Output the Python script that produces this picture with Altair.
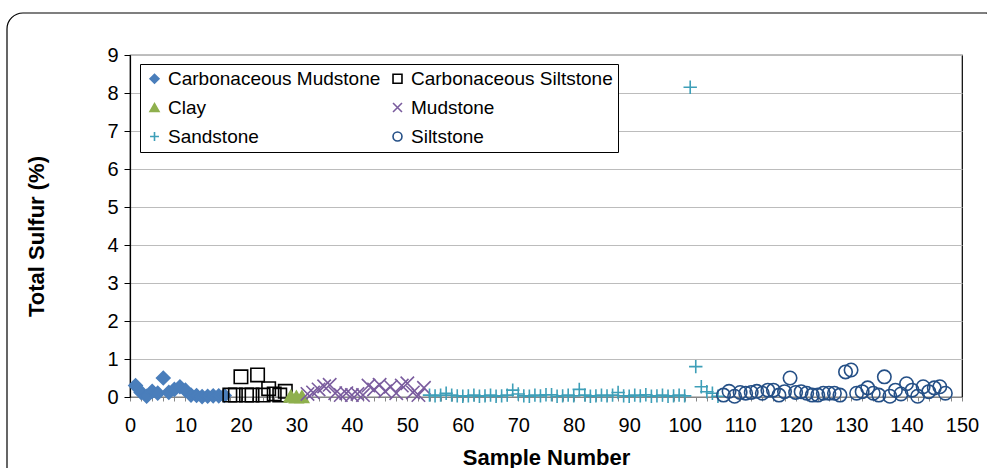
import altair as alt
import pandas as pd

# Total sulfur (%) by sample number, grouped by lithology
carb_mudstone_samples = list(range(1, 18))
carb_mudstone_values = [0.30, 0.12, 0.02, 0.15, 0.10, 0.50, 0.12, 0.20, 0.27, 0.18,
                        0.05, 0.04, 0.01, 0.02, 0.03, 0.03, 0.04]

carb_siltstone_samples = list(range(18, 29))
carb_siltstone_values = [0.05, 0.05, 0.53, 0.05, 0.05, 0.58, 0.05, 0.22, 0.08, 0.05, 0.15]

clay_samples = [29, 30, 31]
clay_values = [0.02, 0.00, 0.01]

mudstone_samples = list(range(32, 54))
mudstone_values = [0.08, 0.12, 0.20, 0.28, 0.32, 0.10, 0.05, 0.10, 0.05, 0.08, 0.05,
                   0.30, 0.20, 0.32, 0.15, 0.27, 0.10, 0.30, 0.36, 0.12, 0.05, 0.24]

sandstone_samples = list(range(54, 107))
sandstone_values = [0.05, 0.03, 0.05, 0.10, 0.05, 0.03, 0.02, 0.03, 0.05, 0.02,
                    0.03, 0.05, 0.02, 0.03, 0.05, 0.18, 0.08, 0.03, 0.02, 0.05,
                    0.03, 0.06, 0.06, 0.02, 0.03, 0.05, 0.03, 0.20, 0.05, 0.02,
                    0.03, 0.05, 0.03, 0.05, 0.12, 0.03, 0.02, 0.05, 0.03, 0.06,
                    0.02, 0.03, 0.05, 0.02, 0.03, 0.05, 0.03, 8.15, 0.80, 0.27,
                    0.14, 0.10, 0.02]

siltstone_samples = list(range(107, 148))
siltstone_values = [0.05, 0.15, 0.02, 0.12, 0.10, 0.12, 0.15, 0.10, 0.18, 0.18,
                    0.05, 0.14, 0.50, 0.12, 0.14, 0.10, 0.05, 0.05, 0.10, 0.10,
                    0.10, 0.05, 0.66, 0.71, 0.10, 0.14, 0.24, 0.10, 0.05, 0.53,
                    0.02, 0.18, 0.08, 0.35, 0.18, 0.02, 0.27, 0.14, 0.24, 0.27,
                    0.10]

lithologies = ["Carbonaceous Mudstone", "Carbonaceous Siltstone", "Clay",
               "Mudstone", "Sandstone", "Siltstone"]
groups = [
    (carb_mudstone_samples, carb_mudstone_values),
    (carb_siltstone_samples, carb_siltstone_values),
    (clay_samples, clay_values),
    (mudstone_samples, mudstone_values),
    (sandstone_samples, sandstone_values),
    (siltstone_samples, siltstone_values),
]

rows = []
for name, (samples, values) in zip(lithologies, groups):
    for s, v in zip(samples, values):
        rows.append({"Lithology": name, "Sample": s, "Sulfur": v})
df = pd.DataFrame(rows)

PLUS = "M-1,0L1,0M0,-1L0,1"
XMARK = "M-1,-1L1,1M-1,1L1,-1"

shapes = ["diamond", "square", "triangle-up", XMARK, PLUS, "circle"]
strokes = ["#4a7ebb", "#000000", "#8fb04e", "#7a5c9e", "#3e9fb8", "#244f86"]
fills = ["#4a7ebb", "transparent", "#8fb04e", "transparent", "transparent", "transparent"]

FONT = "Liberation Sans"

W, H = 832, 342

lith_legend = alt.Legend(title=None, direction="horizontal", columns=2)

points = alt.Chart(df).mark_point(strokeWidth=1.6, opacity=1, size=180).encode(
    x=alt.X(
        "Sample:Q",
        scale=alt.Scale(domain=[0, 150], nice=False, zero=True),
        axis=alt.Axis(
            title="Sample Number",
            values=list(range(0, 151, 2)),
            labelExpr="datum.value % 10 == 0 ? datum.label : ''",
            grid=False, domainColor="#868686", tickColor="#868686",
            tickSize=4, labelPadding=14, titlePadding=12,
            labelFlush=False, labelOverlap=False,
        ),
    ),
    y=alt.Y(
        "Sulfur:Q",
        scale=alt.Scale(domain=[0, 9], nice=False),
        axis=alt.Axis(
            title="Total Sulfur (%)",
            values=list(range(0, 10)),
            grid=True, gridColor="#bcbcbc", gridWidth=1.2,
            domainColor="#000000", tickColor="#000000", tickSize=6,
            labelPadding=6, titlePadding=58, titleY=H / 2 + 10,
            labelFlush=False,
        ),
    ),
    shape=alt.Shape("Lithology:N", scale=alt.Scale(domain=lithologies, range=shapes),
                    legend=lith_legend),
    stroke=alt.Stroke("Lithology:N", scale=alt.Scale(domain=lithologies, range=strokes),
                      legend=lith_legend),
    fill=alt.Fill("Lithology:N", scale=alt.Scale(domain=lithologies, range=fills),
                  legend=lith_legend),
)

# Rounded outer border of the chart area, drawn without fill
frame = alt.Chart(pd.DataFrame({"k": [0]})).mark_rect(
    fillOpacity=0, stroke="#000000", strokeWidth=1.2, cornerRadius=16
).encode(
    x=alt.value(-123), x2=alt.value(W + 40),
    y=alt.value(-42), y2=alt.value(H + 90),
)

chart = alt.layer(points, frame).properties(
    width=W, height=H,
    padding={"left": 130, "top": 55, "right": 25, "bottom": 71},
    autosize=alt.AutoSizeParams(type="none"),
    background="white",
).configure_view(
    stroke="#000000", strokeWidth=1.2,
).configure_axis(
    labelFont=FONT, labelFontSize=20, labelColor="#000000",
    titleFont=FONT, titleFontSize=22, titleFontWeight="bold", titleColor="#000000",
    domainWidth=1.2,
).configure_legend(
    orient="none", legendX=10, legendY=9,
    columnPadding=7, rowPadding=9, labelLimit=400,
    labelFont=FONT, labelFontSize=19, labelColor="#000000",
    symbolSize=80, symbolStrokeWidth=1.6, labelOffset=4,
    strokeColor="#000000", fillColor="white", padding=5,
)

chart.save("out.html", embed_options={"renderer": "svg", "actions": False})
